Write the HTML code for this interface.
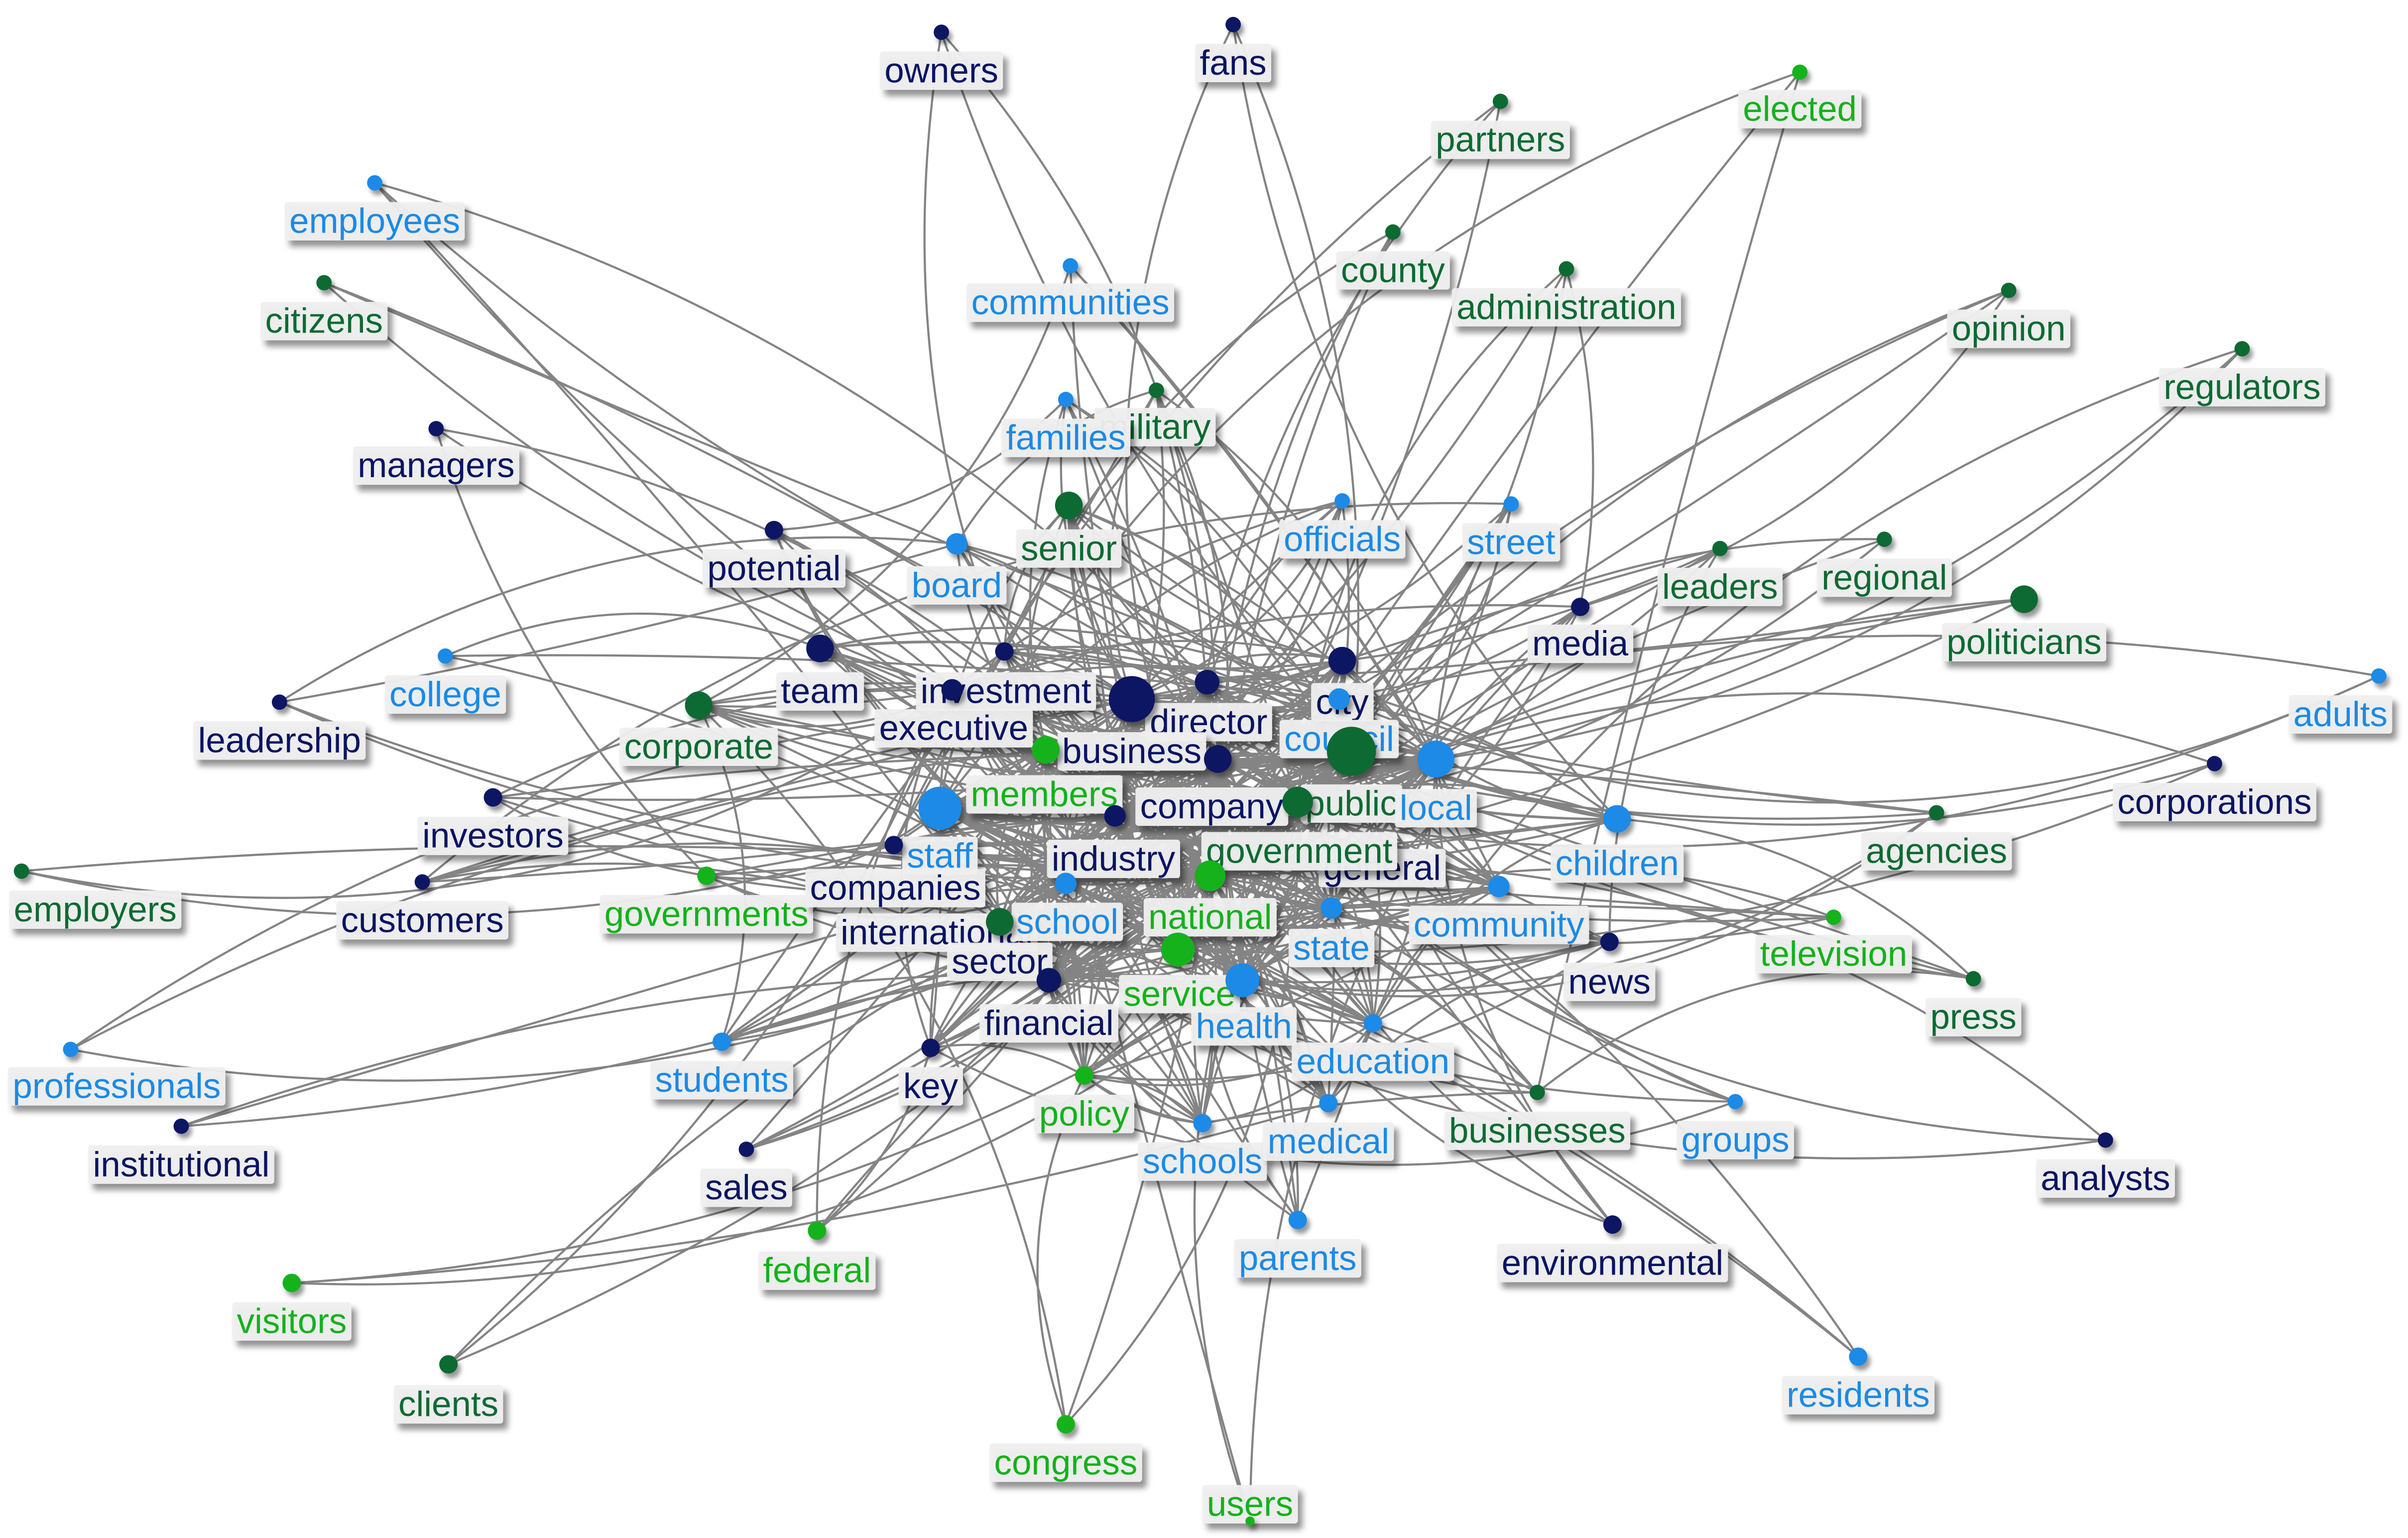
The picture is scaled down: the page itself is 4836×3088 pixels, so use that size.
<!DOCTYPE html>
<html><head><meta charset="utf-8"><style>
html,body{margin:0;padding:0;background:#fff;}
svg{display:block}
text{font-family:"Liberation Sans Narrow","Liberation Sans",sans-serif;font-size:23px;text-anchor:middle;dominant-baseline:central}
.n{fill:#0a1464}.l{fill:#1a8ae6}.d{fill:#0b6b32}.g{fill:#13b21a}
</style></head><body>
<svg id="s" width="4836" height="3088" viewBox="0 0 1568 1001" preserveAspectRatio="none" xmlns="http://www.w3.org/2000/svg">
<defs><filter id="sh" x="-20%" y="-30%" width="150%" height="180%"><feDropShadow dx="3" dy="4" stdDeviation="2" flood-color="#000" flood-opacity="0.45"/></filter>
<filter id="sd" x="-50%" y="-50%" width="200%" height="200%"><feDropShadow dx="2" dy="3" stdDeviation="1.5" flood-color="#000" flood-opacity="0.4"/></filter></defs>
<g id="edges" fill="none" stroke="#777" stroke-width="1.4" stroke-opacity="0.9"></g>
<g id="labels">
<text class="n" x="613" y="46">owners</text>
<text class="n" x="803" y="41">fans</text>
<text class="g" x="1172" y="71">elected</text>
<text class="d" x="977" y="91">partners</text>
<text class="l" x="244" y="144">employees</text>
<text class="l" x="697" y="197">communities</text>
<text class="d" x="907" y="176">county</text>
<text class="d" x="1020" y="200">administration</text>
<text class="d" x="211" y="209">citizens</text>
<text class="d" x="1308" y="214">opinion</text>
<text class="d" x="1460" y="252">regulators</text>
<text class="n" x="284" y="303">managers</text>
<text class="d" x="752" y="278">military</text>
<text class="l" x="694" y="285">families</text>
<text class="d" x="696" y="357">senior</text>
<text class="l" x="874" y="351">officials</text>
<text class="l" x="984" y="353">street</text>
<text class="n" x="504" y="370">potential</text>
<text class="l" x="623" y="381">board</text>
<text class="d" x="1120" y="382">leaders</text>
<text class="d" x="1227" y="376">regional</text>
<text class="d" x="1318" y="418">politicians</text>
<text class="n" x="1029" y="419">media</text>
<text class="l" x="290" y="452">college</text>
<text class="n" x="534" y="450">team</text>
<text class="n" x="655" y="450">investment</text>
<text class="n" x="182" y="482">leadership</text>
<text class="d" x="455" y="486">corporate</text>
<text class="n" x="621" y="474">executive</text>
<text class="n" x="787" y="470">director</text>
<text class="n" x="874" y="457">city</text>
<text class="l" x="872" y="481">council</text>
<text class="n" x="737" y="489">business</text>
<text class="l" x="1524" y="465">adults</text>
<text class="n" x="1442" y="522">corporations</text>
<text class="g" x="680" y="517">members</text>
<text class="n" x="789" y="525">company</text>
<text class="d" x="880" y="523">public</text>
<text class="l" x="935" y="526">local</text>
<text class="n" x="321" y="544">investors</text>
<text class="d" x="1261" y="554">agencies</text>
<text class="l" x="1053" y="562">children</text>
<text class="l" x="612" y="557">staff</text>
<text class="n" x="900" y="565">general</text>
<text class="n" x="725" y="559">industry</text>
<text class="d" x="846" y="554">government</text>
<text class="d" x="62" y="592">employers</text>
<text class="n" x="275" y="599">customers</text>
<text class="g" x="460" y="595">governments</text>
<text class="n" x="583" y="578">companies</text>
<text class="l" x="976" y="602">community</text>
<text class="n" x="610" y="607">international</text>
<text class="l" x="695" y="600">school</text>
<text class="g" x="788" y="597">national</text>
<text class="n" x="651" y="626">sector</text>
<text class="l" x="867" y="617">state</text>
<text class="g" x="1194" y="621">television</text>
<text class="n" x="1048" y="639">news</text>
<text class="g" x="768" y="647">service</text>
<text class="l" x="810" y="668">health</text>
<text class="d" x="1285" y="662">press</text>
<text class="n" x="683" y="666">financial</text>
<text class="l" x="894" y="691">education</text>
<text class="l" x="76" y="707">professionals</text>
<text class="l" x="470" y="703">students</text>
<text class="n" x="606" y="707">key</text>
<text class="g" x="706" y="725">policy</text>
<text class="d" x="1001" y="736">businesses</text>
<text class="l" x="1130" y="742">groups</text>
<text class="l" x="783" y="756">schools</text>
<text class="l" x="865" y="743">medical</text>
<text class="n" x="1371" y="767">analysts</text>
<text class="n" x="118" y="758">institutional</text>
<text class="n" x="486" y="773">sales</text>
<text class="l" x="845" y="819">parents</text>
<text class="n" x="1050" y="822">environmental</text>
<text class="g" x="532" y="827">federal</text>
<text class="g" x="190" y="860">visitors</text>
<text class="d" x="292" y="914">clients</text>
<text class="l" x="1210" y="908">residents</text>
<text class="g" x="694" y="952">congress</text>
<text class="g" x="814" y="979">users</text>
</g>
<g id="dots" filter="url(#sd)"></g>
</svg>
<script>
var C={n:"#0a1464",l:"#1a8ae6",d:"#0b6b32",g:"#13b21a"};
var N=[
[613,21,5,"n"],[803,16,5,"n"],[1172,47,5,"g"],[977,66,5,"d"],[244,119,5,"l"],[697,173,5,"l"],[907,151,5,"d"],[1020,175,5,"d"],[211,184,5,"d"],[1308,189,5,"d"],[1460,227,5,"d"],[284,279,5,"n"],[694,260,5,"l"],[753,254,5,"d"],[696,329,9,"d"],[874,326,5,"l"],[984,328,5,"l"],[504,345,6,"n"],[623,354,7,"l"],[1120,357,5,"d"],[1227,351,5,"d"],[1318,390,9,"d"],[1029,395,6,"n"],[290,427,5,"l"],[534,422,9,"n"],[620,449,7,"n"],[654,424,6,"n"],[182,457,5,"n"],[455,459,9,"d"],[737,455,15,"n"],[786,444,8,"n"],[874,430,9,"n"],[872,455,7,"l"],[880,489,16,"d"],[681,488,9,"g"],[793,494,9,"n"],[935,494,12,"l"],[1549,440,5,"l"],[1442,497,5,"n"],[612,526,14,"l"],[726,531,7,"n"],[845,522,10,"d"],[321,519,6,"n"],[1261,529,5,"d"],[1053,533,9,"l"],[582,550,6,"n"],[694,575,7,"l"],[788,570,10,"g"],[14,567,5,"d"],[275,574,5,"n"],[460,570,6,"g"],[976,577,7,"l"],[651,600,9,"d"],[767,618,11,"g"],[867,591,7,"l"],[1194,597,5,"g"],[1048,613,6,"n"],[809,638,11,"l"],[1285,637,5,"d"],[683,638,8,"n"],[894,666,6,"l"],[46,683,5,"l"],[470,678,6,"l"],[606,682,6,"n"],[706,700,6,"g"],[1001,711,5,"d"],[1130,717,5,"l"],[783,731,6,"l"],[865,718,6,"l"],[1371,742,5,"n"],[118,733,5,"n"],[486,748,5,"n"],[845,794,6,"l"],[1050,797,6,"n"],[532,801,6,"g"],[190,835,6,"g"],[292,888,6,"d"],[1210,883,6,"l"],[694,927,6,"g"],[814,990,3,"g"]];
var seed=4242;function R(){seed=(seed*1103515245+12345)%2147483648;return seed/2147483648;}
var E=document.getElementById("edges"),ns="http://www.w3.org/2000/svg",p="";
var cx=780,cy=540;
function wt(i){var dx=N[i][0]-cx,dy=(N[i][1]-cy)*1.3;var d=Math.sqrt(dx*dx+dy*dy);return 1/(1+Math.pow(d/230,2))*(1+N[i][2]/8);}
var W=N.map(function(_,i){return wt(i)}),P=W.map(function(w){return w*w}),TW=P.reduce(function(a,b){return a+b},0);
function pick(){var r=R()*TW;for(var i=0;i<N.length;i++){r-=P[i];if(r<=0)return i;}return N.length-1;}
for(var i=0;i<N.length;i++){var k=Math.min(16,2+Math.round(Math.pow(W[i],1.3)*8));for(var j=0;j<k;j++){var t=pick();if(t==i)continue;
if(W[i]<0.45&&W[t]<0.45){t=pick();if(W[t]<0.45||t==i)continue;}
var a=N[i],b=N[t];var mx=(a[0]+b[0])/2,my=(a[1]+b[1])/2,dx=b[0]-a[0],dy=b[1]-a[1];var s=(R()-0.5)*0.45;
p+="M"+a[0]+" "+a[1]+"Q"+(mx-dy*s).toFixed(1)+" "+(my+dx*s).toFixed(1)+" "+b[0]+" "+b[1];}}
var path=document.createElementNS(ns,"path");path.setAttribute("d",p);E.appendChild(path);
var D=document.getElementById("dots");
N.forEach(function(a){var c=document.createElementNS(ns,"circle");c.setAttribute("cx",a[0]);c.setAttribute("cy",a[1]);c.setAttribute("r",a[2]);c.setAttribute("fill",C[a[3]]);D.appendChild(c);});
var L=document.getElementById("labels");
Array.prototype.slice.call(L.querySelectorAll("text")).forEach(function(t){var b=t.getBBox();var r=document.createElementNS(ns,"rect");
r.setAttribute("x",b.x-3);r.setAttribute("y",t.getAttribute("y")-12.5);r.setAttribute("width",b.width+6);r.setAttribute("height",25);r.setAttribute("rx",2);
r.setAttribute("fill","#efefef");r.setAttribute("fill-opacity","0.95");r.setAttribute("filter","url(#sh)");L.insertBefore(r,t);});
</script>
</body></html>
